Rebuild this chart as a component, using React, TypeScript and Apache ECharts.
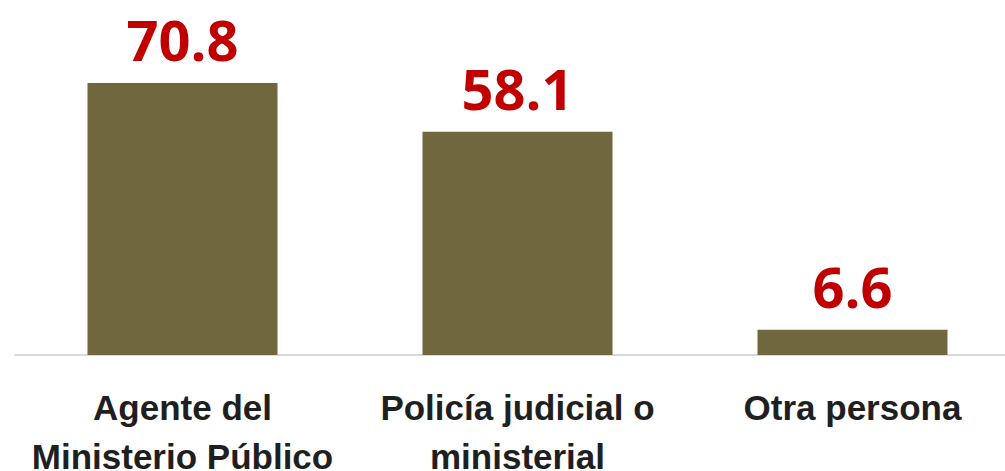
import React, { useEffect, useRef } from "react";
import * as echarts from "echarts";

const categories = ["Agente del\nMinisterio Público", "Policía judicial o\nministerial", "Otra persona"];
const values = [70.8, 58.1, 6.6];

export default function App() {
  const ref = useRef<HTMLDivElement>(null);
  useEffect(() => {
    const chart = echarts.init(ref.current!, null, { renderer: "svg" });
    chart.setOption({
      animation: false,
      grid: { left: 15, right: -15, top: 47.6, bottom: 116, containLabel: false, outerBoundsMode: "none" },
      xAxis: {
        type: "category",
        data: categories,
        axisLine: { lineStyle: { color: "#D9D9D9", width: 2 } },
        axisTick: { show: false },
        axisLabel: {
          margin: 28,
          fontFamily: "Liberation Sans, Arial",
          fontWeight: "bold",
          fontSize: 35,
          lineHeight: 49,
          color: "#1f1f1f",
          interval: 0,
        },
      },
      yAxis: { type: "value", min: 0, max: 80, show: false, splitLine: { show: false } },
      series: [
        {
          type: "bar",
          data: values,
          barWidth: 190,
          itemStyle: { color: "#70673F" },
          label: {
            show: true,
            position: "top",
            distance: 16,
            fontFamily: "Open Sans",
            fontWeight: "bold",
            fontSize: 56,
            color: "#C00000",
            formatter: (p: any) => p.value.toFixed(1),
          },
        },
      ],
    });
    return () => chart.dispose();
  }, []);
  return (
    <div
      ref={ref}
      style={{ position: "fixed", left: 0, top: 0, width: 1005, height: 471, background: "#fff" }}
    />
  );
}
